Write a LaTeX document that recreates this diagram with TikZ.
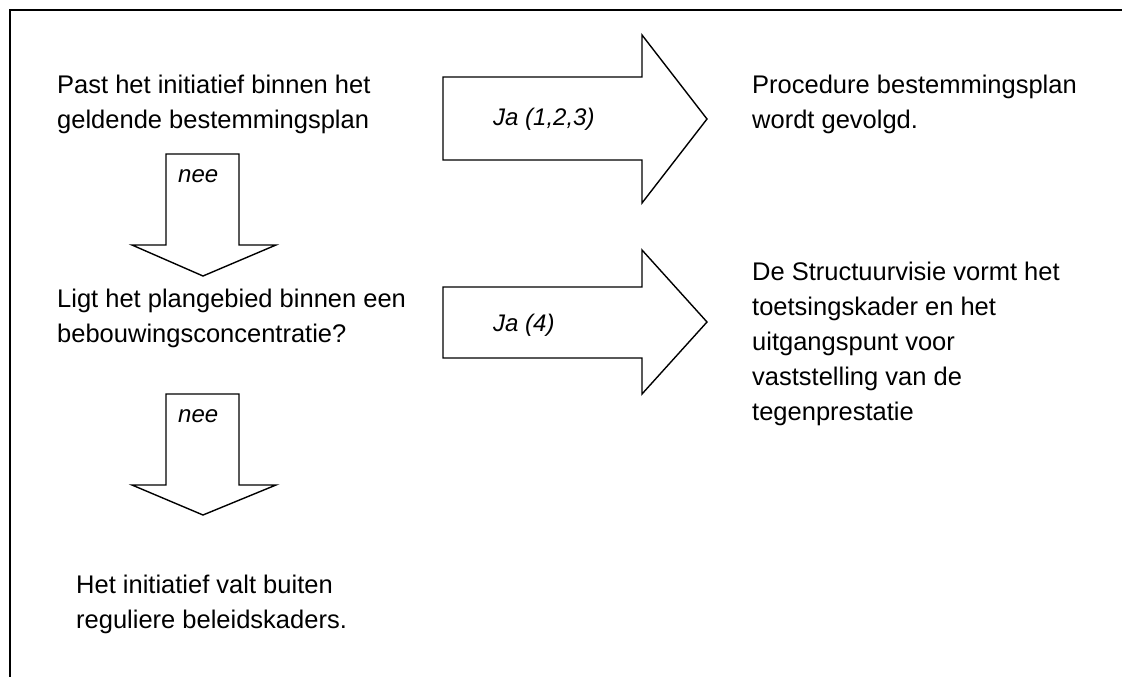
\documentclass[tikz,border=0pt]{standalone}
\usepackage{fontspec}
\setmainfont{Liberation Sans}
\newcommand{\firstln}{\rule{0pt}{20pt}}
\begin{document}
\begin{tikzpicture}[x=1pt,y=-1pt,
  txt/.style={anchor=north west,inner sep=0pt,align=left,font=\fontsize{25.5}{35}\selectfont},
  lbl/.style={anchor=base west,inner sep=0pt,font=\fontsize{24}{29}\selectfont\itshape},
  arrowshape/.style={draw=black,line width=1.4pt,line join=miter,fill=white}]
\useasboundingbox (0,0) rectangle (1122,677);
% frame
\draw[line width=2pt] (10,680) -- (10,10) -- (1125,10);
% arrows
\draw[arrowshape] (443,77) -- (642,77) -- (642,35) -- (707,119) -- (642,203) -- (642,160) -- (443,160) -- cycle;
\draw[arrowshape] (443,287) -- (642,287) -- (642,250) -- (707,322) -- (642,394) -- (642,358) -- (443,358) -- cycle;
\draw[arrowshape] (166,154) -- (239,154) -- (239,245) -- (276,245) -- (203,276) -- (132,245) -- (166,245) -- cycle;
\draw[arrowshape] (166,394) -- (239,394) -- (239,485) -- (276,485) -- (203,515) -- (132,485) -- (166,485) -- cycle;
% texts
\node[txt] (q1) at (57,73) {\firstln Past het initiatief binnen het\\geldende bestemmingsplan};
\node[txt] (r1) at (752,73) {\firstln Procedure bestemmingsplan\\wordt gevolgd.};
\node[txt] (q2) at (57,287) {\firstln Ligt het plangebied binnen een\\bebouwingsconcentratie?};
\node[txt] (r2) at (752,260) {\firstln De Structuurvisie vormt het\\toetsingskader en het\\uitgangspunt voor\\vaststelling van de\\tegenprestatie};
\node[txt] (r3) at (76,573) {\firstln Het initiatief valt buiten\\reguliere beleidskaders.};
% labels
\node[lbl] (l1) at (493,125) {Ja (1,2,3)};
\node[lbl] (l2) at (493,331) {Ja (4)};
\node[lbl] (l3) at (178,182) {nee};
\node[lbl] (l4) at (178,422) {nee};
\end{tikzpicture}
\end{document}
